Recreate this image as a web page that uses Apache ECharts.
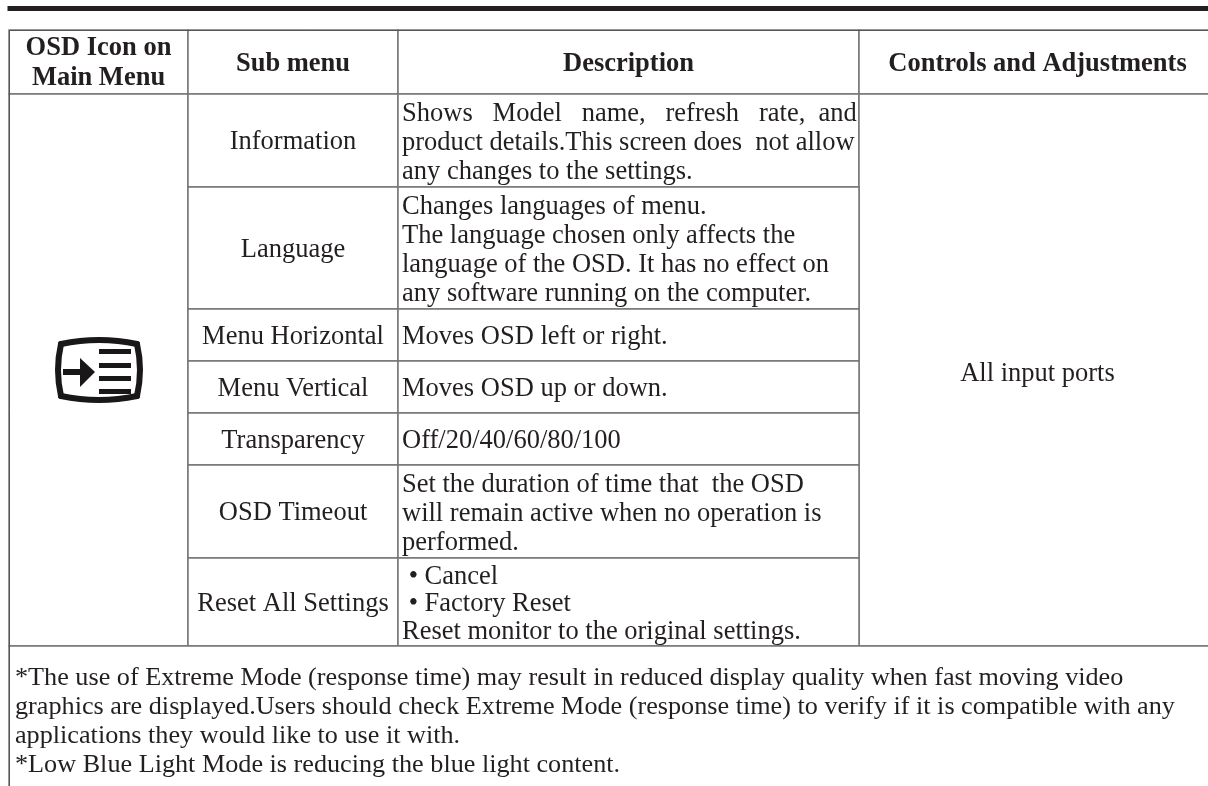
<!DOCTYPE html>
<html><head><meta charset="utf-8">
<style>html,body{margin:0;padding:0;background:#fff}#c{width:1208px;height:786px}</style>
<script src="https://cdn.jsdelivr.net/npm/echarts@6/dist/echarts.min.js"></script>
</head><body><div id="c"></div>
<script>
var columns = ['icon', 'sub', 'desc', 'ctrl'];
var headers = ['OSD Icon on\nMain Menu', 'Sub menu', 'Description', 'Controls and Adjustments'];
var subMenus = ['Information', 'Language', 'Menu Horizontal', 'Menu Vertical', 'Transparency', 'OSD Timeout', 'Reset All Settings'];
var descriptions = [
  'Shows   Model   name,   refresh   rate,  and\nproduct details.This screen does  not allow\nany changes to the settings.',
  'Changes languages of menu.\nThe language chosen only affects the\nlanguage of the OSD. It has no effect on\nany software running on the computer.',
  'Moves OSD left or right.',
  'Moves OSD up or down.',
  'Off/20/40/60/80/100',
  'Set the duration of time that  the OSD\nwill remain active when no operation is\nperformed.',
  ' \u2022 Cancel\n \u2022 Factory Reset\nReset monitor to the original settings.'
];
var controls = 'All input ports';
var notes = '*The use of Extreme Mode (response time) may result in reduced display quality when fast moving video\ngraphics are displayed.Users should check Extreme Mode (response time) to verify if it is compatible with any\napplications they would like to use it with.\n*Low Blue Light Mode is reducing the blue light content.';
var colWidths = [179, 210, 461, 361];
var rowHeights = [63.5, 93, 122, 52.5, 52, 52, 93, 87.5, 160];

var FONT = '"Liberation Serif"', INK = '#231f20';
// top padding that puts a block of text dy px below the middle of a cell of height h
function topPad(h, text, lineHeight, dy) {
  return Math.max(0, h / 2 + dy - text.split('\n').length * lineHeight / 2);
}
function isMultiLine(text) { return text.indexOf('\n') >= 0; }
var mergedHeight = rowHeights.slice(1, 8).reduce(function (a, b) { return a + b; }, 0);
var cells = [];
headers.forEach(function (h, i) {
  cells.push({coord: [i, 0], value: h, label: {fontWeight: 'bold', fontSize: 26.5, lineHeight: 30, overflow: 'none',
    align: 'center', position: 'insideTop', distance: 0,
    padding: [topPad(rowHeights[0], h, 30, isMultiLine(h) ? 1.5 : 2.5), i === 3 ? 4 : 0, 0, 0]}});
});
cells.push({coord: [0, [1, 7]], mergeCells: true, value: ''});
subMenus.forEach(function (s, i) {
  var h = rowHeights[i + 1], lh = i === 6 ? 27.5 : 29.2, d = descriptions[i];
  cells.push({coord: [1, i + 1], value: s, label: {align: 'center', position: 'insideTop', distance: 0,
    padding: [topPad(h, s, 29, 2), 0, 0, 0]}});
  cells.push({coord: [2, i + 1], value: d, label: {align: 'left', position: 'insideTopLeft', distance: 0,
    padding: [topPad(h, d, lh, isMultiLine(d) ? 2.4 : 2), 0, 0, 4],
    overflow: 'none', lineHeight: lh}});
});
cells.push({coord: [3, [1, 7]], mergeCells: true, value: controls, label: {align: 'center', position: 'insideTop', distance: 0,
  padding: [topPad(mergedHeight, controls, 29, 4.5), 4, 0, 0]}});
cells.push({coord: [[0, 3], 8], mergeCells: true, value: notes,
  label: {align: 'left', position: 'insideTopLeft', distance: 6, padding: [12, 0, 0, 0], fontSize: 26.2, overflow: 'none'}});

var chart = echarts.init(document.getElementById('c'), null, {renderer: 'canvas'});
var iconInk = '#1a1718';
function edge(x1, y1, cx, cy, x2, y2) {
  return {type: 'bezierCurve', shape: {x1: x1, y1: y1, cpx1: cx, cpy1: cy, x2: x2, y2: y2}, style: {fill: 'none', stroke: iconInk, lineWidth: 6, lineCap: 'round'}};
}
chart.setOption({
  animation: false,
  backgroundColor: '#fff',
  matrix: {
    left: 9, top: 30, width: 1211, height: 775,
    x: {show: false, data: columns.map(function (c, i) { return {value: c, size: colWidths[i]}; })},
    y: {show: false, data: rowHeights.map(function (h, i) { return {value: 'r' + i, size: h}; })},
    body: {
      itemStyle: {borderColor: '#757575', borderWidth: 1.5, color: '#fff'},
      label: {color: INK, fontFamily: FONT, fontSize: 26.5, lineHeight: 29, overflow: 'none'},
      data: cells
    }
  },
  graphic: [
    {type: 'rect', shape: {x: 7.5, y: 6, width: 1201, height: 5}, style: {fill: INK}},
    {type: 'group', x: 99, y: 370, children: [
      edge(-38, -26, 0, -34, 38, -26),
      edge(38, -26, 44, 0, 38, 26),
      edge(38, 26, 0, 34, -38, 26),
      edge(-38, 26, -44, 0, -38, -26),
      {type: 'rect', shape: {x: -36, y: -1, width: 18, height: 6}, style: {fill: iconInk}},
      {type: 'polygon', shape: {points: [[-19, -12], [-4, 2], [-19, 17]]}, style: {fill: iconInk}},
      {type: 'rect', shape: {x: 0, y: -21, width: 32, height: 5}, style: {fill: iconInk}},
      {type: 'rect', shape: {x: 0, y: -7, width: 32, height: 5}, style: {fill: iconInk}},
      {type: 'rect', shape: {x: 0, y: 6, width: 32, height: 5}, style: {fill: iconInk}},
      {type: 'rect', shape: {x: 0, y: 19, width: 32, height: 5}, style: {fill: iconInk}}
    ]}
  ]
});
</script></body></html>
